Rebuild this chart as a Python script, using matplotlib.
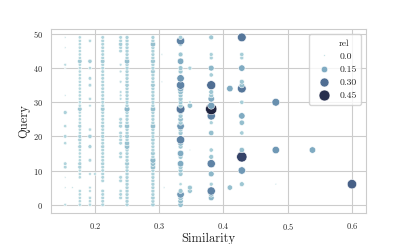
import numpy as np
import pandas as pd
import matplotlib
matplotlib.use('Agg')
import matplotlib.pyplot as plt
from matplotlib.lines import Line2D
import seaborn as sns

# similarity value of each column of points
sims = [0.1538, 0.1765, 0.1923, 0.2121, 0.24, 0.25, 0.2903, 0.3333,
        0.3478, 0.381, 0.41, 0.4286, 0.4815, 0.5385, 0.6]

q_1538 = [0, 5, 8, 11, 12, 18, 20, 23, 27, 32, 40, 41, 46, 49]
r_1538 = [0.02, 0.0, 0.0, 0.04, 0.04, 0.03, 0.04, 0.03, 0.05, 0.0, 0.0, 0.02, 0.0, 0.0]

q_1765 = [0, 1, 2, 3, 4, 8, 9, 10, 11, 12, 13, 14, 15, 16, 17, 18, 19, 20, 21, 22, 23, 24,
          25, 26, 27, 28, 29, 30, 31, 32, 33, 34, 35, 36, 37, 38, 39, 40, 41, 42, 43, 44,
          45, 46, 47, 48, 49]
r_1765 = [0.03, 0.03, 0.03, 0.03, 0.03, 0.03, 0.03, 0.03, 0.05, 0.05, 0.03, 0.03, 0.03, 0.03,
          0.05, 0.03, 0.05, 0.05, 0.03, 0.03, 0.05, 0.03, 0.03, 0.03, 0.03, 0.07, 0.03, 0.03,
          0.03, 0.03, 0.03, 0.03, 0.03, 0.03, 0.03, 0.03, 0.03, 0.03, 0.03, 0.07, 0.03, 0.03,
          0.03, 0.03, 0.03, 0.03, 0.03]

q_1923 = [0, 1, 2, 4, 5, 9, 13, 17, 20, 22, 29, 31, 35, 37, 40, 42, 48]
r_1923 = [0.03, 0.03, 0.03, 0.02, 0.02, 0.02, 0.04, 0.05, 0.06, 0.03, 0.02, 0.03, 0.04, 0.04,
          0.03, 0.06, 0.03]

q_2121 = [0, 1, 2, 3, 4, 7, 8, 9, 10, 11, 12, 13, 14, 15, 16, 17, 18, 19, 20, 21, 22, 23, 24,
          25, 26, 27, 28, 29, 30, 31, 32, 33, 34, 35, 36, 37, 38, 39, 40, 41, 42, 43, 44, 45,
          46, 47, 48, 49]
r_2121 = [0.04, 0.04, 0.04, 0.04, 0.04, 0.04, 0.04, 0.04, 0.04, 0.04, 0.05, 0.04, 0.04, 0.04,
          0.04, 0.05, 0.04, 0.04, 0.05, 0.04, 0.04, 0.05, 0.04, 0.04, 0.04, 0.04, 0.07, 0.04,
          0.04, 0.04, 0.04, 0.04, 0.04, 0.04, 0.04, 0.04, 0.04, 0.04, 0.04, 0.04, 0.07, 0.04,
          0.04, 0.04, 0.04, 0.04, 0.04, 0.04]

q_24 = [2, 3, 4, 7, 8, 14, 15, 18, 19, 20, 21, 23, 24, 25, 31, 32, 33, 36, 39, 41, 45, 46, 47,
        48, 49]
r_24 = [0.04, 0.04, 0.03, 0.04, 0.04, 0.04, 0.04, 0.04, 0.04, 0.04, 0.04, 0.05, 0.04, 0.04,
        0.02, 0.02, 0.02, 0.02, 0.02, 0.02, 0.04, 0.04, 0.06, 0.04, 0.04]

q_25 = [0, 1, 2, 3, 4, 5, 6, 7, 8, 9, 10, 11, 12, 13, 14, 15, 16, 17, 18, 19, 20, 21, 22, 23,
        24, 25, 26, 27, 28, 29, 30, 31, 32, 33, 34, 35, 36, 37, 38, 39, 40, 41, 42, 43, 44,
        45, 46, 47, 48, 49]
r_25 = [0.05, 0.05, 0.05, 0.05, 0.05, 0.05, 0.05, 0.05, 0.05, 0.05, 0.05, 0.05, 0.07, 0.05,
        0.05, 0.05, 0.05, 0.1, 0.09, 0.05, 0.07, 0.05, 0.05, 0.09, 0.05, 0.05, 0.05, 0.05,
        0.12, 0.05, 0.05, 0.05, 0.05, 0.05, 0.05, 0.06, 0.05, 0.05, 0.05, 0.05, 0.05, 0.05,
        0.1, 0.05, 0.05, 0.05, 0.05, 0.05, 0.05, 0.05]

q_29 = [0, 1, 2, 3, 4, 5, 6, 7, 8, 9, 10, 11, 12, 13, 14, 15, 16, 17, 18, 19, 20, 21, 22, 23,
        24, 25, 26, 27, 28, 29, 30, 31, 32, 33, 34, 35, 36, 37, 38, 39, 40, 41, 42, 43, 44,
        45, 46, 47, 48, 49]
r_29 = [0.06, 0.05, 0.06, 0.05, 0.05, 0.05, 0.05, 0.05, 0.05, 0.05, 0.05, 0.1, 0.1, 0.12,
        0.05, 0.07, 0.05, 0.05, 0.05, 0.06, 0.05, 0.05, 0.05, 0.1, 0.05, 0.05, 0.05, 0.05,
        0.1, 0.05, 0.05, 0.05, 0.05, 0.05, 0.05, 0.07, 0.05, 0.05, 0.05, 0.07, 0.05, 0.05,
        0.08, 0.05, 0.05, 0.05, 0.05, 0.1, 0.05, 0.05]

q_333 = [0, 1, 2, 3, 4, 6, 9, 10, 11, 12, 14, 15, 17, 18, 19, 21, 22, 23, 24, 25, 26, 27, 28,
         29, 30, 31, 32, 33, 34, 35, 37, 39, 40, 42, 44, 47, 48, 49]
r_333 = [0.1, 0.1, 0.1, 0.2, 0.08, 0.03, 0.08, 0.08, 0.08, 0.15, 0.08, 0.15, 0.08, 0.12, 0.25,
         0.08, 0.08, 0.2, 0.08, 0.1, 0.08, 0.08, 0.28, 0.08, 0.08, 0.08, 0.08, 0.1, 0.15,
         0.25, 0.2, 0.08, 0.08, 0.15, 0.08, 0.06, 0.25, 0.06]

q_348 = [4, 5, 16, 29, 30, 40]
r_348 = [0.08, 0.08, 0.0, 0.1, 0.02, 0.05]

q_381 = [2, 3, 4, 6, 9, 12, 14, 16, 21, 24, 26, 28, 29, 31, 32, 33, 35, 38, 40, 43, 44, 49]
r_381 = [0.12, 0.1, 0.25, 0.05, 0.12, 0.25, 0.08, 0.06, 0.1, 0.05, 0.25, 0.48, 0.18, 0.15,
         0.08, 0.08, 0.3, 0.06, 0.12, 0.05, 0.05, 0.08]

q_41 = [5, 34]
r_41 = [0.1, 0.15]

q_429 = [6, 10, 14, 16, 21, 24, 26, 30, 34, 35, 36, 40, 43, 44, 49]
r_429 = [0.08, 0.2, 0.4, 0.1, 0.06, 0.1, 0.15, 0.06, 0.28, 0.1, 0.08, 0.15, 0.05, 0.06, 0.28]

q_481 = [6, 16, 30]
r_481 = [0.0, 0.2, 0.22]

q_538 = [16]
r_538 = [0.15]

q_6 = [6]
r_6 = [0.33]

# a few stray points between the columns
extra_sim = [0.165, 0.2, 0.3043, 0.3043, 0.3077]
extra_q = [5, 9, 44, 36, 5]
extra_r = [0.0, 0.02, 0.0, 0.0, 0.0]

legend_vals = [0.0, 0.15, 0.30, 0.45]
legend_labels = ['0.0', '0.15', '0.30', '0.45']

queries = [q_1538, q_1765, q_1923, q_2121, q_24, q_25, q_29, q_333, q_348, q_381, q_41,
           q_429, q_481, q_538, q_6]
rels = [r_1538, r_1765, r_1923, r_2121, r_24, r_25, r_29, r_333, r_348, r_381, r_41,
        r_429, r_481, r_538, r_6]

rows = []
for s, qs, rs in zip(sims, queries, rels):
    for q, r in zip(qs, rs):
        rows.append((s, q, r))
for s, q, r in zip(extra_sim, extra_q, extra_r):
    rows.append((s, q, r))
df = pd.DataFrame(rows, columns=['Similarity', 'Query', 'rel'])

sns.set_style('whitegrid')
plt.rcParams['font.family'] = ['cmr10', 'DejaVu Serif']
plt.rcParams['axes.formatter.use_mathtext'] = True

fig = plt.figure(figsize=(4.07, 2.44), dpi=100)
ax = fig.add_axes([0.125, 0.127, 0.775, 0.754])

cmap = sns.cubehelix_palette(rot=-.2, as_cmap=True)
rmax = 0.48
smin, smax = 1.5, 66
sns.scatterplot(data=df, x='Similarity', y='Query', hue='rel', size='rel',
                sizes=(smin, smax), hue_norm=(0, rmax), size_norm=(0, rmax),
                palette=cmap, linewidth=0.4, ax=ax, legend=False)
ax.set_xlabel('Similarity', fontsize=9, labelpad=1)
ax.set_ylabel('Query', fontsize=9, labelpad=2)
ax.tick_params(labelsize=6, pad=2)
ax.set_xticks([0.2, 0.3, 0.4, 0.5, 0.6])
ax.set_yticks([0, 10, 20, 30, 40, 50])

# legend in the old seaborn style: the title is a row of its own
handles = [Line2D([], [], linestyle='none', marker='')]
labels = ['rel']
for v, lab in zip(legend_vals, legend_labels):
    s = smin + v / rmax * (smax - smin)
    handles.append(Line2D([], [], linestyle='none', marker='o', markersize=np.sqrt(s),
                          markerfacecolor=cmap(v / rmax), markeredgecolor='white',
                          markeredgewidth=0.4))
    labels.append(lab)
ax.legend(handles, labels, loc='upper right', fontsize=7, labelspacing=0.45,
          handletextpad=0.6, borderpad=0.5, frameon=True)

fig.savefig('out.png', dpi=100)
